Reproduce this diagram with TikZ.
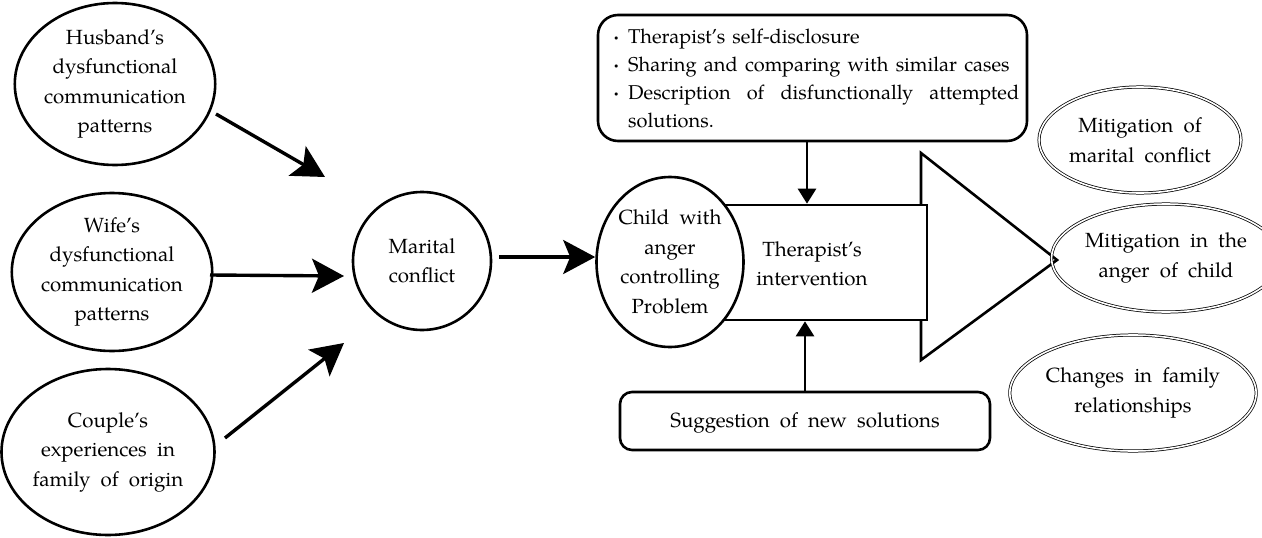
\documentclass[tikz,border=0pt]{standalone}
\usepackage{fontspec}
\setmainfont{TeX Gyre Pagella}
\usetikzlibrary{shapes.geometric,arrows.meta}
\begin{document}
\begin{tikzpicture}[x=1pt,y=-1pt,
  every node/.style={font=\fontsize{20.5}{29.5}\selectfont},
  ell/.style={ellipse, draw, line width=2.6pt, fill=white, align=center, inner sep=0pt},
  dell/.style={ellipse, draw, double, line width=0.75pt, double distance=1.6pt, align=center, inner sep=0pt},
  box/.style={draw, line width=2.6pt, rounded corners=#1, fill=white, inner sep=0pt},
  arr/.style={line width=3.4pt, -{Stealth[length=32pt,width=34pt,inset=7pt]}},
  varr/.style={line width=2.6pt, -{Triangle[length=15pt,width=18pt]}}]
\useasboundingbox (0,0) rectangle (1262,538);

% left ellipses
\node[ell, minimum width=188, minimum height=162] (hus) at (115,84) {Husband’s\\dysfunctional\\communication\\patterns};
\node[ell, minimum width=186, minimum height=158] (wif) at (112,272) {Wife’s\\dysfunctional\\communication\\patterns};
\node[ell, minimum width=194, minimum height=166] (cou) at (108,452) {Couple’s\\experiences\ \ in\\family\ \ of\ \ origin};

% marital conflict
\node[ell, minimum width=138, minimum height=138] (mar) at (422,261) {Marital\\conflict};

% free arrow ends
\coordinate (h1) at (216,114); \coordinate (h2) at (325,177);
\coordinate (w1) at (210,275); \coordinate (w2) at (344,276);
\coordinate (c1) at (225,438); \coordinate (c2) at (344,343);
\draw[arr] (h1) -- (h2);
\draw[arr] (w1) -- (w2);
\draw[arr] (c1) -- (c2);

% triangle (big arrow)
\coordinate (t1) at (921,153);
\coordinate (t2) at (1057,260);
\coordinate (t3) at (921,360);
\draw[line width=2.6pt, fill=white, line join=miter] (t1) -- (t2) -- (t3) -- cycle;

% intervention rectangle
\node[draw, line width=2.6pt, fill=white, minimum width=227, minimum height=115, inner sep=0pt] (tr) at (813.5,262.5) {};
\node[align=center, inner sep=0pt] (trt) at (812,264) {Therapist’s\\intervention};

% child ellipse
\node[ell, minimum width=147, minimum height=170] (chi) at (670,262) {Child\ \ with\\anger\\controlling\\Problem};

\draw[arr] ([xshift=7pt,yshift=4pt]mar.east) -- ([yshift=4pt]mar.east -| chi.west);

% top box
\node[box=20pt, minimum width=429, minimum height=126] (top) at (812.5,78) {};
\node[anchor=north west, inner sep=0pt, text width=406pt, align=justify] (topt) at (613,29) {%
\fontsize{20}{28}\selectfont
\hyphenpenalty=10000 \exhyphenpenalty=10000
\setlength{\spaceskip}{0.36em plus 0.6em minus 0.08em}%
\hangindent=15pt\hangafter=1\noindent\makebox[15pt][l]{\textbf{·}}Therapist’s self-disclosure\par
\hangindent=15pt\hangafter=1\noindent\makebox[15pt][l]{\textbf{·}}Sharing and comparing with similar cases\par
\hangindent=15pt\hangafter=1\noindent\makebox[15pt][l]{\textbf{·}}Description of disfunctionally attempted solutions.\par};

% bottom box
\node[box=12pt, minimum width=370, minimum height=58] (bot) at (805,421) {};
\node[inner sep=0pt] (bott) at (805,423) {Suggestion\ \ of\ \ new\ \ solutions};

\draw[varr] (top.south -| 807,0) -- (tr.north -| 807,0);
\draw[varr] (bot.north) -- (tr.south -| 805,0);

% outcomes
\node[dell, minimum width=202, minimum height=106] (o1) at (1140,140) {Mitigation\ \ of\\marital\ \ conflict};
\node[dell, minimum width=186, minimum height=108] (o2) at (1166,258) {Mitigation\ \ in\ \ the\\anger\ \ of\ \ child};
\node[dell, minimum width=200, minimum height=116] (o3) at (1133,393) {Changes\ \ in\ \ family\\relationships};
\end{tikzpicture}
\end{document}
